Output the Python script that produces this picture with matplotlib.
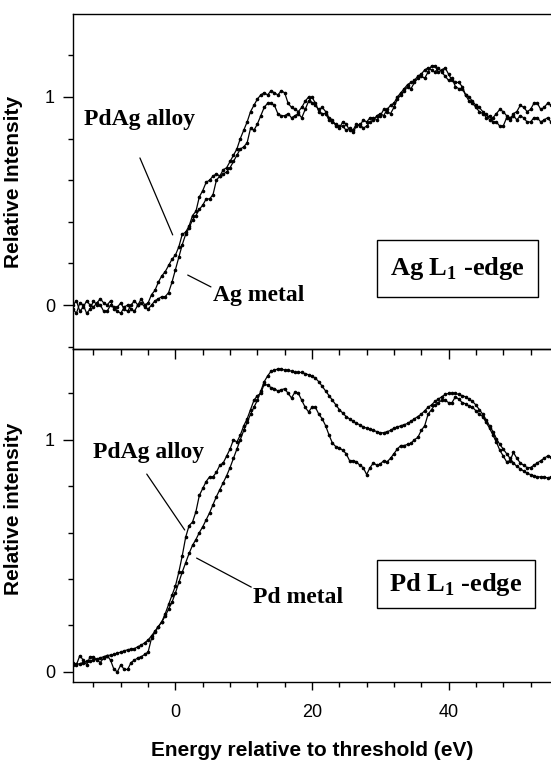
import matplotlib
matplotlib.use("Agg")
import matplotlib.pyplot as plt
from matplotlib.patches import Rectangle
from matplotlib.ticker import MultipleLocator, FixedLocator

plt.rcParams['mathtext.fontset'] = 'custom'
plt.rcParams['mathtext.rm'] = 'Liberation Serif:bold'
plt.rcParams['mathtext.bf'] = 'Liberation Serif:bold'

# energy grid, 0.5 eV steps from -15 to 55 eV
energy = [i * 0.5 for i in range(-30, 111)]

ag_alloy = [0.00, 0.02, -0.03, -0.01, 0.02, 0.00, -0.01, 0.01, 0.03, 0.01,
            0.00, 0.02, -0.02, -0.01, 0.01, -0.02, -0.03, 0.00, 0.02, 0.00,
            0.03, 0.00, 0.01, 0.05, 0.07, 0.11, 0.14, 0.16, 0.19, 0.22,
            0.24, 0.28, 0.34, 0.35, 0.38, 0.43, 0.45, 0.52, 0.55, 0.59,
            0.60, 0.62, 0.63, 0.62, 0.65, 0.66, 0.69, 0.72, 0.75, 0.80,
            0.84, 0.88, 0.93, 0.96, 0.99, 1.01, 1.02, 1.01, 1.03, 1.02,
            1.01, 1.03, 1.02, 0.97, 0.95, 0.94, 0.93, 0.95, 0.98, 1.00,
            0.97, 0.96, 0.94, 0.95, 0.93, 0.90, 0.89, 0.86, 0.85, 0.88,
            0.87, 0.84, 0.84, 0.87, 0.86, 0.89, 0.88, 0.90, 0.90, 0.89,
            0.91, 0.94, 0.93, 0.92, 0.95, 0.99, 1.01, 1.03, 1.05, 1.04,
            1.07, 1.09, 1.10, 1.09, 1.12, 1.15, 1.15, 1.12, 1.13, 1.14,
            1.11, 1.08, 1.07, 1.07, 1.05, 1.01, 1.00, 0.98, 0.96, 0.95,
            0.93, 0.90, 0.91, 0.88, 0.88, 0.86, 0.86, 0.90, 0.89, 0.92,
            0.93, 0.96, 0.95, 0.93, 0.94, 0.97, 0.97, 0.94, 0.95, 0.97,
            0.96]
ag_metal = [-0.02, -0.04, 0.01, 0.00, -0.04, -0.02, 0.02, 0.00, 0.00, -0.03,
            -0.03, 0.00, -0.01, -0.03, -0.04, -0.01, 0.00, -0.02, -0.03, 0.00,
            0.01, -0.01, -0.02, 0.00, 0.02, 0.03, 0.04, 0.04, 0.06, 0.11,
            0.17, 0.23, 0.29, 0.34, 0.37, 0.41, 0.43, 0.46, 0.48, 0.51,
            0.51, 0.53, 0.60, 0.62, 0.63, 0.64, 0.66, 0.69, 0.72, 0.75,
            0.76, 0.78, 0.85, 0.84, 0.87, 0.91, 0.95, 0.97, 0.97, 0.96,
            0.92, 0.91, 0.91, 0.92, 0.90, 0.91, 0.92, 0.90, 0.94, 0.98,
            1.00, 0.97, 0.93, 0.92, 0.92, 0.89, 0.88, 0.87, 0.86, 0.86,
            0.84, 0.85, 0.83, 0.86, 0.87, 0.85, 0.86, 0.88, 0.89, 0.91,
            0.92, 0.91, 0.94, 0.96, 0.97, 1.00, 1.02, 1.04, 1.06, 1.07,
            1.08, 1.10, 1.11, 1.13, 1.14, 1.13, 1.12, 1.14, 1.12, 1.10,
            1.08, 1.09, 1.05, 1.04, 1.04, 1.01, 0.98, 0.97, 0.95, 0.93,
            0.92, 0.92, 0.89, 0.90, 0.92, 0.94, 0.93, 0.91, 0.90, 0.91,
            0.89, 0.91, 0.90, 0.88, 0.88, 0.90, 0.90, 0.88, 0.89, 0.90,
            0.88]

pd_metal = [0.030, 0.032, 0.035, 0.040, 0.045, 0.048, 0.050, 0.055, 0.060, 0.065,
            0.070, 0.072, 0.075, 0.080, 0.085, 0.090, 0.095, 0.098, 0.100, 0.108,
            0.115, 0.125, 0.137, 0.155, 0.175, 0.195, 0.215, 0.240, 0.270, 0.300,
            0.340, 0.385, 0.430, 0.470, 0.510, 0.545, 0.570, 0.600, 0.625, 0.655,
            0.685, 0.720, 0.755, 0.785, 0.815, 0.845, 0.880, 0.920, 0.960, 1.000,
            1.040, 1.075, 1.110, 1.140, 1.170, 1.210, 1.250, 1.275, 1.295, 1.300,
            1.305, 1.305, 1.300, 1.300, 1.295, 1.290, 1.290, 1.290, 1.285, 1.280,
            1.275, 1.265, 1.250, 1.230, 1.210, 1.190, 1.170, 1.150, 1.130, 1.115,
            1.100, 1.090, 1.080, 1.070, 1.065, 1.055, 1.050, 1.045, 1.040, 1.035,
            1.030, 1.030, 1.035, 1.040, 1.050, 1.055, 1.060, 1.065, 1.070, 1.080,
            1.090, 1.100, 1.110, 1.125, 1.140, 1.150, 1.165, 1.175, 1.185, 1.195,
            1.200, 1.200, 1.200, 1.195, 1.190, 1.185, 1.175, 1.165, 1.150, 1.130,
            1.110, 1.085, 1.060, 1.035, 1.005, 0.980, 0.960, 0.940, 0.920, 0.900,
            0.885, 0.875, 0.865, 0.855, 0.850, 0.845, 0.840, 0.840, 0.840, 0.835,
            0.840]
pd_alloy = [0.04, 0.03, 0.07, 0.05, 0.03, 0.065, 0.065, 0.05, 0.04, 0.06,
            0.07, 0.05, 0.01, 0.00, 0.03, 0.01, 0.01, 0.04, 0.05, 0.06,
            0.065, 0.075, 0.085, 0.145, 0.17, 0.195, 0.215, 0.25, 0.29, 0.33,
            0.37, 0.43, 0.50, 0.58, 0.63, 0.645, 0.69, 0.76, 0.79, 0.82,
            0.84, 0.84, 0.86, 0.89, 0.90, 0.93, 0.96, 1.00, 0.99, 1.02,
            1.06, 1.09, 1.13, 1.17, 1.19, 1.20, 1.24, 1.235, 1.225, 1.22,
            1.21, 1.215, 1.22, 1.20, 1.18, 1.205, 1.20, 1.17, 1.14, 1.12,
            1.14, 1.14, 1.11, 1.09, 1.06, 1.02, 0.985, 0.97, 0.965, 0.955,
            0.94, 0.91, 0.91, 0.905, 0.89, 0.88, 0.85, 0.88, 0.90, 0.89,
            0.895, 0.91, 0.905, 0.92, 0.94, 0.96, 0.975, 0.975, 0.98, 0.985,
            1.00, 1.01, 1.04, 1.06, 1.11, 1.13, 1.15, 1.16, 1.17, 1.17,
            1.16, 1.16, 1.185, 1.175, 1.16, 1.155, 1.145, 1.14, 1.125, 1.11,
            1.10, 1.075, 1.05, 1.02, 0.99, 0.955, 0.93, 0.905, 0.91, 0.945,
            0.92, 0.90, 0.89, 0.88, 0.88, 0.89, 0.90, 0.91, 0.92, 0.93,
            0.925]

x_ticks = [0, 20, 40]
y_ticks = [0, 1]

W, H = 551, 760
fig = plt.figure(figsize=(W / 100, H / 100), dpi=100)
L, R = 73 / W, 1.0
ax1 = fig.add_axes([L, 1 - 349 / H, R - L, (349 - 14) / H])
ax2 = fig.add_axes([L, 1 - 682 / H, R - L, (682 - 349) / H])

sans = 'Liberation Sans'
serif = 'Liberation Serif'

for ax, a, m in ((ax1, ag_alloy, ag_metal), (ax2, pd_alloy, pd_metal)):
    ax.plot(energy, m, color='black', lw=0.9, marker='o', ms=1.6)
    ax.plot(energy, a, color='black', lw=0.9, marker='o', ms=1.6)
    ax.set_xlim(-15, 55)
    ax.spines['right'].set_visible(False)
    for s in ax.spines.values():
        s.set_linewidth(1.0)
    ax.yaxis.set_major_locator(FixedLocator(y_ticks))
    ax.yaxis.set_minor_locator(MultipleLocator(0.2))
    ax.tick_params(axis='y', which='major', direction='out', length=7, width=1,
                   labelsize=13, pad=6)
    ax.tick_params(axis='y', which='minor', direction='out', length=3.5, width=1)
    for lab in ax.get_yticklabels():
        lab.set_fontfamily(sans)

ax1.set_ylim(-0.2115, 1.399)
ax2.set_ylim(-0.044, 1.391)

ax1.tick_params(axis='x', which='both', bottom=False, top=False, labelbottom=False)
ax1.spines['bottom'].set_visible(False)

ax2.xaxis.set_major_locator(FixedLocator(x_ticks))
ax2.xaxis.set_minor_locator(MultipleLocator(4))
ax2.tick_params(axis='x', which='major', direction='out', length=6, width=1,
                labelsize=13, pad=10)
ax2.tick_params(axis='x', which='minor', direction='out', length=3.5, width=1)
for lab in ax2.get_xticklabels():
    lab.set_fontfamily(sans)

# inward ticks along the top of the lower panel
sec = ax2.secondary_xaxis('top')
sec.xaxis.set_major_locator(FixedLocator(x_ticks))
sec.xaxis.set_minor_locator(MultipleLocator(4))
sec.tick_params(axis='x', which='major', direction='in', length=7, width=1, labeltop=False)
sec.tick_params(axis='x', which='minor', direction='in', length=4, width=1)
sec.spines['top'].set_linewidth(1.0)

ax1.set_ylabel('Relative Intensity', fontfamily=sans, fontweight='bold', fontsize=15)
ax2.set_ylabel('Relative intensity', fontfamily=sans, fontweight='bold', fontsize=15)
ax1.yaxis.set_label_coords(-0.105, 0.5)
ax2.yaxis.set_label_coords(-0.105, 0.52)
ax2.set_xlabel('Energy relative to threshold (eV)', fontfamily=sans,
               fontweight='bold', fontsize=15, labelpad=14)

tkw = dict(fontfamily=serif, fontweight='bold', fontsize=17)
bkw = dict(fontfamily=serif, fontweight='bold', fontsize=19)
lkw = dict(arrowprops=dict(arrowstyle='-', lw=0.9, color='black', shrinkA=0, shrinkB=0))

# upper panel annotations
ax1.text(-5.2, 0.894, 'PdAg alloy', ha='center', va='center', **tkw)
ax1.annotate('', xy=(-0.4, 0.337), xytext=(-5.2, 0.707), **lkw)
ax1.text(5.45, 0.048, 'Ag metal', ha='left', va='center', **tkw)
ax1.annotate('', xy=(1.8, 0.144), xytext=(5.2, 0.087), **lkw)
ax1.add_patch(Rectangle((0.636, 0.155), 0.337, 0.170, transform=ax1.transAxes,
                        fill=False, lw=1.0, ec='black'))
ax1.text(0.804, 0.240, r'Ag L$_\mathrm{1}$ -edge', transform=ax1.transAxes,
         ha='center', va='center', **bkw)

# lower panel annotations
ax2.text(-4.0, 0.947, 'PdAg alloy', ha='center', va='center', **tkw)
ax2.annotate('', xy=(1.36, 0.611), xytext=(-4.2, 0.852), **lkw)
ax2.text(11.3, 0.322, 'Pd metal', ha='left', va='center', **tkw)
ax2.annotate('', xy=(3.1, 0.49), xytext=(11.1, 0.365), **lkw)
ax2.add_patch(Rectangle((0.636, 0.222), 0.331, 0.144, transform=ax2.transAxes,
                        fill=False, lw=1.0, ec='black'))
ax2.text(0.801, 0.294, r'Pd L$_\mathrm{1}$ -edge', transform=ax2.transAxes,
         ha='center', va='center', **bkw)

fig.savefig('out.png', dpi=100)
